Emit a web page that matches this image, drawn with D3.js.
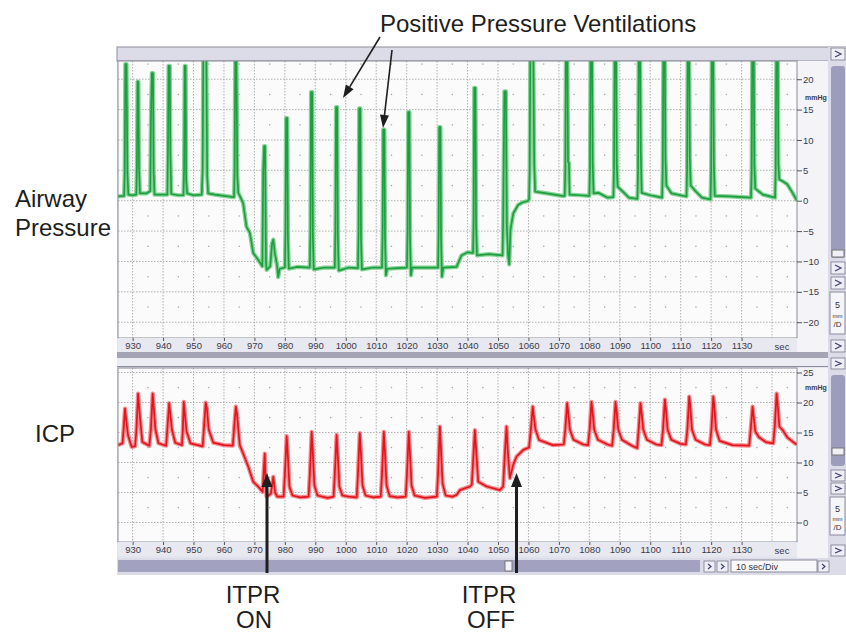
<!DOCTYPE html>
<html>
<head>
<meta charset="utf-8">
<script src="https://cdn.jsdelivr.net/npm/d3@7"></script>
<style>
  body { margin: 0; background: #fff; }
  svg { display: block; }
  text { font-family: Arial, "Liberation Sans", sans-serif; }
</style>
</head>
<body>
<svg width="846" height="634"></svg>
<script>
// tick labels
const timeTicks = [930, 940, 950, 960, 970, 980, 990, 1000, 1010, 1020, 1030, 1040, 1050, 1060, 1070, 1080, 1090, 1100, 1110, 1120, 1130];
const gridTimes = [930, 940, 950, 960, 970, 980, 990, 1000, 1010, 1020, 1030, 1040, 1050, 1060, 1070, 1080, 1090, 1100, 1110, 1120, 1130, 1140];
const awTicks = [-20, -15, -10, -5, 0, 5, 10, 15, 20];
const icpTicks = [0, 5, 10, 15, 20, 25];

// airway pressure trace, [sec, mmHg]
const airway = [
  [925.2,0.7],[927.2,0.8],[927.4,4.5],[927.6,22.5],[928.0,22.5],[928.3,4.5],[928.6,1.0],[930.0,0.9],[931.2,1.0],
  [931.4,5.5],[931.6,19.6],[931.9,19.6],[932.1,5.6],[932.4,1.2],[934.5,1.2],[935.8,1.6],
  [936.0,12.8],[936.3,21],[936.7,21],[936.9,5],[937.2,1.0],[939.5,1.0],[941.4,1.0],
  [941.6,7.8],[941.8,22.2],[942.2,22.2],[942.4,7.8],[942.7,1.1],[945,0.9],[946.7,0.9],
  [946.9,5],[947.1,22.2],[947.4,22.2],[947.6,3.4],[947.9,1.2],[950,0.9],[952.7,1.0],
  [953.0,5],[953.2,24],[954.2,24],[954.5,4],[954.8,1.2],[957,1.0],[960,0.8],[963.3,0.6],
  [963.5,5],[963.7,24],[964.1,24],[964.4,4],[964.7,1.3],[965.2,0.8],
  [966.3,-0.4],[967.4,-4.3],[968.5,-5.3],[969.6,-8.6],[971.2,-9.7],[972.6,-10.8],
  [972.9,5],[973.2,9.0],[973.5,9.0],[973.8,-10],[974.0,-11.4],[975.2,-10.8],[975.8,-7],[976.2,-6.4],[976.7,-8.6],[977.4,-10.5],[977.8,-12.6],[978.3,-11.2],[980.0,-11.0],
  [980.2,-5],[980.4,13.6],[980.8,13.6],[981.0,-6],[981.3,-11.2],[984,-10.9],[988.2,-11],
  [988.4,-5],[988.6,17.9],[989.0,17.9],[989.2,-6],[989.5,-11.3],[993,-11],[996.4,-11],
  [996.6,-5],[996.8,15.4],[997.2,15.4],[997.4,-6],[997.7,-11.5],[1001,-11],[1004.0,-11.1],
  [1004.2,-5],[1004.4,15.2],[1004.8,15.2],[1005,-6],[1005.3,-11.3],[1009,-11],[1011.9,-11],
  [1012.1,-5],[1012.3,11.7],[1012.7,11.7],[1012.9,-6],[1013.2,-12.3],[1013.6,-11.2],[1017,-11.1],[1020.1,-11],
  [1020.3,-5],[1020.5,14.6],[1020.9,14.6],[1021.1,-6],[1021.4,-12.3],[1021.8,-11],[1026,-11],[1030.3,-11],
  [1030.5,-5],[1030.7,12.1],[1031.1,12.1],[1031.3,-6],[1031.6,-12.5],[1032,-11],[1036.4,-10.9],[1038.0,-9.0],[1040,-8.5],[1041.8,-8.6],
  [1042.0,-3],[1042.2,18.6],[1042.6,18.6],[1042.8,-4],[1043.1,-9],[1047,-8.8],[1051.5,-9],
  [1051.7,-3],[1052.1,18],[1052.6,18],[1052.9,-4],[1053.3,-9],[1053.7,-10.5],[1054.1,-4.8],[1055.0,-2.1],[1056.6,-0.7],[1058,-0.3],[1059.9,0],[1060.2,0.3],
  [1060.4,5],[1060.6,24],[1061.6,24],[1061.9,6],[1062.2,1.5],[1066,1.2],[1071,0.8],[1071.9,0.8],
  [1072.1,5],[1072.3,24],[1072.8,24],[1073.0,6.4],[1073.3,6.2],[1073.5,1.0],[1077,0.9],[1080.0,0.8],
  [1080.2,5],[1080.4,24],[1080.9,24],[1081.1,6],[1081.4,1.2],[1083,1.3],[1086,0.5],[1087.9,0.6],
  [1088.1,5],[1088.3,24],[1088.8,24],[1089.0,6],[1089.3,2.3],[1091,1.5],[1093,0.5],[1095.8,0.3],
  [1096.0,5],[1096.2,24],[1096.7,24],[1096.9,8],[1097.2,1.3],[1100,0.9],[1103.9,0.5],
  [1104.1,5],[1104.3,24],[1104.8,24],[1105.0,7],[1105.3,2.5],[1107,1.2],[1111.9,0.7],
  [1112.1,5],[1112.3,24],[1112.8,24],[1113.0,7],[1113.3,2.5],[1115,1.5],[1117,0.5],[1119.8,0.2],
  [1120.0,5],[1120.2,24],[1120.7,24],[1120.9,6],[1121.2,0.8],[1126,0.7],[1133.1,0.5],
  [1133.3,5],[1133.5,24],[1134.0,24],[1134.2,6],[1134.5,2],[1137,1.0],[1141.0,0.5],
  [1141.2,5],[1141.4,24],[1141.9,24],[1142.1,6],[1142.4,3.5],[1143.5,3.2],[1145,2.7],[1146.5,1.5],[1148.2,0]
];

// ICP trace, [sec, mmHg]
const icp = [
  [925.2,12.9],[926.7,13.2],[927.1,16],[927.5,19.0],[927.9,17],[928.5,14.5],[929.7,12.6],[930.8,12.7],
  [931.2,15],[931.8,21.5],[932.1,19.5],[932.6,16.5],[933.2,13.4],[935.5,12.8],
  [936.0,15.5],[936.6,21.5],[936.9,19.5],[937.5,15.5],[938.5,13.2],[941.0,12.8],
  [941.4,15.5],[942.0,19.9],[942.3,18.5],[942.9,15.5],[944,13.3],[946.2,12.9],
  [946.5,15.5],[946.8,20.1],[947.1,18.5],[947.7,15.2],[949,13.2],[953.0,12.7],
  [953.4,15.5],[954.0,20.0],[954.4,19],[955,15.5],[956.5,13.3],[960,12.9],[962.9,12.8],
  [963.3,15.5],[963.9,19.3],[964.3,18],[964.9,14.5],[965.2,12.9],
  [966.3,11.5],[968.0,9.3],[969.6,6.8],[971.2,6.0],[972.7,5.1],[973.0,8],[973.4,11.5],[973.7,6.5],[974.0,4.3],[975.4,4.8],[976.2,7.6],[976.8,5],[977.5,4.3],[979.6,4.3],
  [980.0,8],[980.6,14.4],[980.9,12],[981.5,6],[982.5,4.5],[985,4.2],[987.8,4.3],
  [988.2,8],[988.8,15.1],[989.1,12.5],[989.7,6.2],[990.7,4.5],[994,4.1],[996.0,4.3],
  [996.4,8],[997.0,14.6],[997.3,12],[997.9,6],[998.9,4.5],[1001,4.3],[1003.6,4.2],
  [1004.0,8],[1004.6,14.9],[1004.9,12.5],[1005.5,6.2],[1006.5,4.5],[1009,4.2],[1011.5,4.3],
  [1011.9,8],[1012.5,15.1],[1012.8,12.5],[1013.4,6.2],[1014.4,4.4],[1017,4.2],[1019.7,4.3],
  [1020.1,8],[1020.7,15.1],[1021.0,12.5],[1021.6,6.2],[1022.6,4.5],[1026,4.1],[1029.9,4.3],
  [1030.3,8],[1030.9,16.0],[1031.2,13],[1031.8,6.5],[1032.8,4.5],[1035,4.3],[1036.4,4.6],[1037.5,5.4],[1040.8,6.0],[1041.4,6.3],
  [1041.8,10],[1042.4,15.4],[1042.7,13],[1043.5,6.8],[1046.3,6.0],[1050.6,5.4],[1051.7,6],
  [1052.2,11],[1052.8,16.0],[1053.2,12],[1053.9,7.4],[1055.0,9.6],[1056.1,11.0],[1058.3,12.1],[1060.2,12.5],
  [1060.8,15.5],[1061.4,19.3],[1061.7,18],[1062.3,15.5],[1063.5,13.75],[1068,12.9],[1071.6,13.0],
  [1072.1,15.5],[1072.7,19.9],[1073.0,18.6],[1073.6,15.5],[1074.8,13.8],[1078,13.0],[1079.6,12.9],
  [1080.1,15.5],[1080.7,20.1],[1081.0,18.8],[1081.6,15.5],[1082.8,13.8],[1086,13.0],[1087.5,12.8],
  [1088.0,15.5],[1088.6,20.1],[1088.9,18.8],[1089.5,15.5],[1090.7,13.8],[1094,12.8],[1095.7,12.4],
  [1096.2,15.5],[1096.8,19.9],[1097.1,18.6],[1097.7,15.5],[1098.9,13.8],[1102,13.0],[1103.7,12.9],
  [1104.2,15.5],[1104.8,20.5],[1105.1,19.2],[1105.7,15.5],[1106.9,13.8],[1110,13.1],[1111.7,13.0],
  [1112.2,15.5],[1112.8,21],[1113.1,19.7],[1113.7,15.5],[1114.9,13.8],[1118,13.0],[1119.6,12.9],
  [1120.1,15.5],[1120.7,21],[1121.0,19.7],[1121.6,15.5],[1122.8,13.6],[1127,12.9],[1132.5,12.8],
  [1133.0,15.5],[1133.6,19.3],[1133.9,18],[1134.5,15.2],[1135.7,14.2],[1138,13.4],[1140.4,13.2],
  [1140.9,16],[1141.5,21.5],[1141.8,20],[1142.4,16],[1143.5,15.4],[1145,14.2],[1147.5,13.2],[1148.2,13.0]
];

const svg = d3.select('svg');
const plotL = 118, plotR = 797;

let x = d3.scaleLinear().domain([925.2, 1148.2]).range([plotL, plotR]);
let yAw = d3.scaleLinear().domain([-22.6, 23]).range([338, 61]);
let yIcp = d3.scaleLinear().domain([-3.25, 25.75]).range([542, 368]);

// window chrome (lavender frame)
svg.append("rect").attr("x", 117).attr("y", 47).attr("width", 729).attr("height", 528).attr("fill", "#e4e4ee");
svg.append("rect").attr("x", 117).attr("y", 47).attr("width", 729).attr("height", 14)
  .attr("fill", "#dcdce8").attr("stroke", "#8c8c9c").attr("stroke-width", 1);
svg.append("rect").attr("x", 797).attr("y", 61).attr("width", 31).attr("height", 291).attr("fill", "#f4f4f8");
svg.append("rect").attr("x", 797).attr("y", 368).attr("width", 31).attr("height", 190).attr("fill", "#f4f4f8");
// band between panels
svg.append("rect").attr("x", 117).attr("y", 352).attr("width", 711).attr("height", 6).attr("fill", "#a4a4b4");
svg.append("rect").attr("x", 117).attr("y", 358).attr("width", 711).attr("height", 8).attr("fill", "#ececf4");
svg.append("line").attr("x1", 117).attr("x2", 828).attr("y1", 366.5).attr("y2", 366.5).attr("stroke", "#8c8c9c");

function panel(y, yTicks, data, light, dark, clipId, top, bottom, unitY) {
  const g = svg.append("g");
  g.append("rect").attr("x", plotL).attr("y", top).attr("width", plotR - plotL).attr("height", bottom - top)
    .attr("fill", "#fbfbfb");

  g.selectAll(".vg").data(gridTimes).join("line")
    .attr("x1", d => x(d)).attr("x2", d => x(d))
    .attr("y1", top).attr("y2", bottom)
    .attr("stroke", "#b0b0b0").attr("stroke-dasharray", "1.5,1.5");
  g.selectAll(".hg").data(yTicks).join("line")
    .attr("x1", plotL).attr("x2", plotR)
    .attr("y1", d => y(d)).attr("y2", d => y(d))
    .attr("stroke", "#b0b0b0").attr("stroke-dasharray", "1.5,1.5");

  // little dots in the middle of each cell
  let dots = [];
  gridTimes.forEach(t => yTicks.forEach(v => dots.push([t + 5, v + 2.5])));
  dots = dots.filter(d => x(d[0]) < plotR && y(d[1]) > top);
  g.selectAll(".dot").data(dots).join("rect")
    .attr("x", d => x(d[0]) - 0.6).attr("y", d => y(d[1]) - 0.6)
    .attr("width", 1.3).attr("height", 1.3).attr("fill", "#a8a8a8");

  svg.append("clipPath").attr("id", clipId).append("rect")
    .attr("x", plotL).attr("y", top).attr("width", plotR - plotL).attr("height", bottom - top);

  let line = d3.line().x(d => x(d[0])).y(d => y(d[1]));
  // wide pale stroke under a thinner dark one, like the smeared trace on the monitor
  g.append("path").datum(data)
    .attr("clip-path", `url(#${clipId})`)
    .attr("fill", "none")
    .attr("stroke", light)
    .attr("stroke-width", 4.2)
    .attr("stroke-linejoin", "round")
    .attr("d", line);
  g.append("path").datum(data)
    .attr("clip-path", `url(#${clipId})`)
    .attr("fill", "none")
    .attr("stroke", dark)
    .attr("stroke-width", 1.7)
    .attr("stroke-linejoin", "round")
    .attr("d", line);

  g.append("rect").attr("x", plotL).attr("y", top).attr("width", plotR - plotL).attr("height", bottom - top)
    .attr("fill", "none").attr("stroke", "#8a8a98").attr("stroke-width", 1);

  // right value axis
  const ya = g.append("g").attr("transform", `translate(${plotR},0)`)
    .call(d3.axisRight(y).tickValues(yTicks).tickSize(5).tickPadding(1).tickFormat(d3.format("d")));
  ya.select(".domain").remove();
  ya.selectAll("line").attr("stroke", "#555");
  ya.selectAll("text").attr("font-size", 9.5).attr("fill", "#3a3a48").attr("font-family", "Arial, 'Liberation Sans', sans-serif");
  g.append("text").attr("x", 805).attr("y", unitY).attr("font-size", 7).attr("font-weight", "bold")
    .attr("fill", "#3a3a48").text("mmHg");

  // time labels strip
  g.append("rect").attr("x", plotL).attr("y", bottom).attr("width", plotR - plotL).attr("height", 14).attr("fill", "#e8e8f0");
  const xa = g.append("g").attr("transform", `translate(0,${bottom})`)
    .call(d3.axisBottom(x).tickValues(timeTicks).tickSize(3).tickPadding(1).tickFormat(d3.format("d")));
  xa.select(".domain").remove();
  xa.selectAll("line").attr("stroke", "#555");
  xa.selectAll("text").attr("font-size", 9.5).attr("fill", "#3a3a48").attr("font-family", "Arial, 'Liberation Sans', sans-serif");
  g.append("text").attr("x", 782).attr("y", bottom + 12).attr("text-anchor", "middle")
    .attr("font-size", 9.5).attr("fill", "#3a3a48").text("sec");
}

panel(yAw, awTicks, airway, "#86d396", "#1e9e40", "clipAw", 61, 338, 100);
panel(yIcp, icpTicks, icp, "#f58a8e", "#e3141c", "clipIcp", 368, 542, 390);

// right hand control column
let addButton = (bx, by, w, h) => {
  svg.append("rect").attr("x", bx).attr("y", by).attr("width", w).attr("height", h)
    .attr("fill", "#eeeef6").attr("stroke", "#7a7a90").attr("stroke-width", 0.8);
  svg.append("path").attr("d", `M${bx + 4},${by + 3} l${w - 8},${(h - 6) / 2} l-${w - 8},${(h - 6) / 2}`)
    .attr("fill", "none").attr("stroke", "#40406a").attr("stroke-width", 1.2);
};
svg.append("rect").attr("x", 828).attr("y", 47).attr("width", 18).attr("height", 528).attr("fill", "#dcdce8");
addButton(831, 48, 14, 12);
svg.append("rect").attr("x", 831).attr("y", 66).attr("width", 14).attr("height", 192).attr("rx", 3).attr("fill", "#9c9cbc");
svg.append("rect").attr("x", 832).attr("y", 250).attr("width", 12).attr("height", 7).attr("fill", "#f0f0f6").attr("stroke", "#777");
addButton(831, 262, 14, 12);
addButton(831, 277, 14, 12);
svg.append("rect").attr("x", 830).attr("y", 292).attr("width", 15).attr("height", 42).attr("fill", "#f6f6fa").attr("stroke", "#8a8a9a");
svg.append("text").attr("x", 837.5).attr("y", 308).attr("text-anchor", "middle").attr("font-size", 9).attr("fill", "#333").text("5");
svg.append("text").attr("x", 837.5).attr("y", 318).attr("text-anchor", "middle").attr("font-size", 6).attr("fill", "#333").text("mm");
svg.append("text").attr("x", 837.5).attr("y", 327).attr("text-anchor", "middle").attr("font-size", 8).attr("fill", "#333").text("/D");
addButton(831, 340, 14, 12);

addButton(831, 358, 14, 11);
svg.append("rect").attr("x", 831).attr("y", 375).attr("width", 14).attr("height", 91).attr("rx", 3).attr("fill", "#9c9cbc");
svg.append("rect").attr("x", 832).attr("y", 448).attr("width", 12).attr("height", 7).attr("fill", "#f0f0f6").attr("stroke", "#777");
addButton(831, 470, 14, 11);
addButton(831, 483, 14, 11);
svg.append("rect").attr("x", 830).attr("y", 497).attr("width", 15).attr("height", 38).attr("fill", "#f6f6fa").attr("stroke", "#8a8a9a");
svg.append("text").attr("x", 837.5).attr("y", 512).attr("text-anchor", "middle").attr("font-size", 9).attr("fill", "#333").text("5");
svg.append("text").attr("x", 837.5).attr("y", 521).attr("text-anchor", "middle").attr("font-size", 6).attr("fill", "#333").text("mm");
svg.append("text").attr("x", 837.5).attr("y", 530).attr("text-anchor", "middle").attr("font-size", 8).attr("fill", "#333").text("/D");
addButton(831, 545, 14, 11);

// bottom scroll bar
svg.append("rect").attr("x", 117).attr("y", 558).attr("width", 729).attr("height", 17).attr("fill", "#dcdce8");
svg.append("rect").attr("x", plotL).attr("y", 560).attr("width", 582).attr("height", 12).attr("fill", "#a2a2c0");
svg.append("rect").attr("x", 505).attr("y", 561).attr("width", 7).attr("height", 10).attr("fill", "#f4f4f8").attr("stroke", "#777");
addButton(704, 561, 11, 11);
addButton(717, 561, 11, 11);
svg.append("rect").attr("x", 731).attr("y", 560).attr("width", 86).attr("height", 12).attr("fill", "#f8f8fb").attr("stroke", "#8a8a9a");
svg.append("text").attr("x", 736).attr("y", 569.5).attr("font-size", 9).attr("fill", "#333").text("10 sec/Div");
addButton(818, 561, 11, 11);

// annotations
const ink = "#1e1e1e";
let label = (tx, ty, str, anchor) => {
  svg.append("text").attr("x", tx).attr("y", ty).attr("font-size", 24)
    .attr("text-anchor", anchor || "start").attr("fill", ink).text(str);
};
label(380, 32, "Positive Pressure Ventilations");
label(15, 207, "Airway");
label(15, 236, "Pressure");
label(35, 442, "ICP");
label(253, 603, "ITPR", "middle");
label(254, 628, "ON", "middle");
label(489, 603, "ITPR", "middle");
label(491, 628, "OFF", "middle");

let addArrow = (x1, y1, x2, y2, w, headL, headW) => {
  const a = Math.atan2(y2 - y1, x2 - x1);
  const bx = x2 - headL * Math.cos(a), by = y2 - headL * Math.sin(a);
  svg.append("line").attr("x1", x1).attr("y1", y1).attr("x2", bx).attr("y2", by)
    .attr("stroke", ink).attr("stroke-width", w);
  const px = -Math.sin(a) * headW / 2, py = Math.cos(a) * headW / 2;
  svg.append("path")
    .attr("d", `M${x2},${y2} L${bx + px},${by + py} L${bx - px},${by - py} Z`)
    .attr("fill", ink);
};
addArrow(380, 37, 343, 98, 1.6, 13, 9);
addArrow(392, 50, 383, 128, 1.6, 13, 9);
addArrow(267, 573, 267, 473, 3, 14, 11);
addArrow(516.5, 573, 516.5, 473, 3, 14, 11);
</script>
</body>
</html>
